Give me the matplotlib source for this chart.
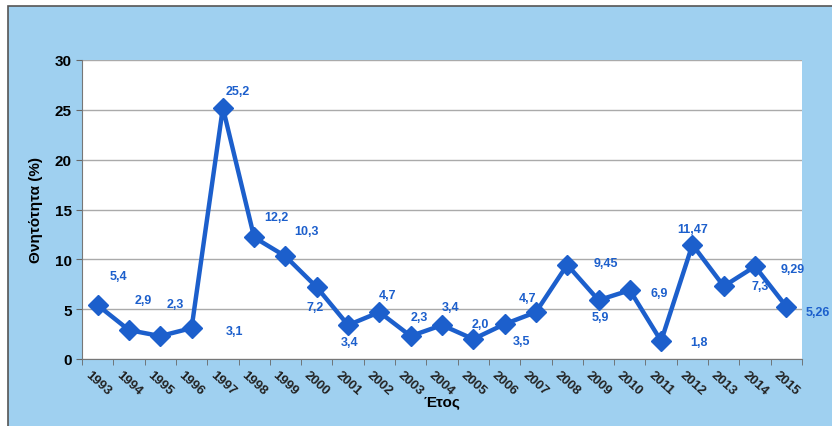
import matplotlib.pyplot as plt
from matplotlib.patches import Rectangle
import matplotlib.ticker as mticker

# data
years = ['1993', '1994', '1995', '1996', '1997', '1998', '1999', '2000', '2001', '2002', '2003', '2004',
         '2005', '2006', '2007', '2008', '2009', '2010', '2011', '2012', '2013', '2014', '2015']
mortality = [5.4, 2.9, 2.3, 3.1, 25.2, 12.2, 10.3, 7.2, 3.4, 4.7, 2.3, 3.4,
             2.0, 3.5, 4.7, 9.45, 5.9, 6.9, 1.8, 11.47, 7.3, 9.29, 5.26]
point_labels = ['5,4', '2,9', '2,3', '3,1', '25,2', '12,2', '10,3', '7,2', '3,4', '4,7', '2,3', '3,4',
                '2,0', '3,5', '4,7', '9,45', '5,9', '6,9', '1,8', '11,47', '7,3', '9,29', '5,26']
# label offsets in points (dx, dy)
offsets = [(15, 21), (10, 22), (11, 23), (31, -2), (11, 12), (16, 15), (15, 18), (-1, -14),
           (1, -12), (6, 12), (6, 14), (6, 13), (5, 11), (12, -12), (-6, 10), (28, 1),
           (1, -12), (21, -2), (27, -1), (0, 11), (26, 0), (27, -2), (23, -4)]

line_col = '#1c5fcc'
bg_col = '#9fd0f0'

plt.rcParams['font.family'] = ['Liberation Sans', 'DejaVu Sans']

fig = plt.figure(figsize=(8.32, 4.27), dpi=100)
fig.patches.append(Rectangle((8 / 832, -0.05), 1, 1.05 - 7 / 427, transform=fig.transFigure,
                             facecolor=bg_col, edgecolor='#555555', linewidth=1.2, zorder=-10))

ax = fig.add_axes([82 / 832, 67 / 427, 720 / 832, 299 / 427])
x = list(range(len(years)))
ax.plot(x, mortality, color=line_col, linewidth=3.2, marker='D', markersize=10,
        markerfacecolor=line_col, markeredgecolor=line_col, zorder=3)

for i, (v, lab) in enumerate(zip(mortality, point_labels)):
    ax.annotate(lab, (i, v), xytext=offsets[i], textcoords='offset points',
                ha='center', va='center', fontsize=9, fontweight='bold', color=line_col, zorder=2)

ax.set_xlim(-0.5, len(years) - 0.5)
ax.set_ylim(0, 30)
ax.set_yticks(range(0, 31, 5))
ax.yaxis.grid(True, color='#aaaaaa', linewidth=1)
ax.set_axisbelow(True)

ax.set_xticks(x)
ax.set_xticklabels(years, rotation=-42, ha='center', va='center', rotation_mode='anchor',
                   fontsize=9.5, fontweight='bold', color='#222222')
ax.xaxis.set_minor_locator(mticker.FixedLocator([i - 0.5 for i in range(len(years) + 1)]))
ax.tick_params(axis='x', which='major', length=0, pad=17)
ax.tick_params(axis='x', which='minor', length=4, color='#666666')
ax.tick_params(axis='y', length=4, color='#666666', labelsize=11)
for t in ax.get_yticklabels():
    t.set_fontweight('bold')

for s in ['top', 'right']:
    ax.spines[s].set_visible(False)
ax.spines['left'].set_color('#777777')
ax.spines['bottom'].set_color('#777777')

ax.set_ylabel('Θνητότητα (%)', fontsize=11, fontweight='bold', labelpad=8)
ax.set_xlabel('Έτος', fontsize=11, fontweight='bold', labelpad=-2)

fig.savefig('out.png', dpi=100)
